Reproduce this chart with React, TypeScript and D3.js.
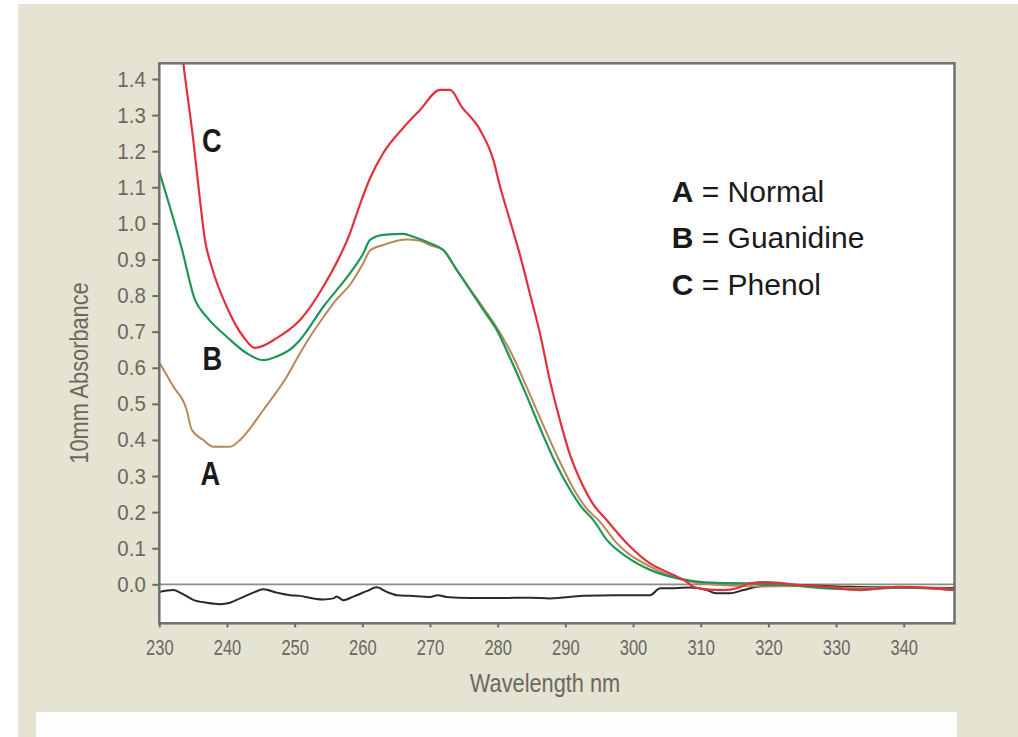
import React, { useEffect, useRef } from 'react';
import * as d3 from 'd3';

// ---- data ----
const wavelengthTicks = [230, 240, 250, 260, 270, 280, 290, 300, 310, 320, 330, 340];
const absorbanceTicks = [0.0, 0.1, 0.2, 0.3, 0.4, 0.5, 0.6, 0.7, 0.8, 0.9, 1.0, 1.1, 1.2, 1.3, 1.4];

// A = Normal (brown)
const normalA: [number, number][] = [
  [230.1, 0.612], [232.07, 0.548], [234.05, 0.483], [234.79, 0.428], [236.5, 0.4], [237.98, 0.381],
  [240.45, 0.381], [241.93, 0.4], [245.37, 0.483], [248.83, 0.575], [250.79, 0.64], [252.27, 0.686],
  [254.24, 0.74], [256.22, 0.79], [258.18, 0.83], [260.15, 0.89], [261.14, 0.925], [263.1, 0.94],
  [266.56, 0.955], [268.5, 0.952], [270.0, 0.94],
  [271.97, 0.926], [273.95, 0.871], [277.88, 0.766], [279.91, 0.71], [282.13, 0.636], [284.34, 0.544],
  [286.71, 0.442], [288.92, 0.35], [291.14, 0.267], [293.06, 0.212], [295.13, 0.173], [297.59, 0.114],
  [302.52, 0.049], [307.44, 0.012], [312.86, -0.002], [318.77, -0.006], [324.68, -0.005], [332.07, -0.01],
  [339.46, -0.009], [347.5, -0.013],
];

// B = Guanidine (green)
const guanidineB: [number, number][] = [
  [230.0, 1.143], [233.31, 0.931], [235.28, 0.788], [237.0, 0.741], [239.96, 0.686], [242.92, 0.64],
  [245.37, 0.621], [247.35, 0.631], [249.8, 0.658], [250.79, 0.677], [254.24, 0.769], [258.18, 0.862],
  [260.15, 0.917], [261.14, 0.954], [263.1, 0.968], [266.06, 0.971], [267.54, 0.963], [270.0, 0.945],
  [271.97, 0.926], [273.95, 0.871], [277.88, 0.76], [279.86, 0.705], [281.83, 0.627], [284.04, 0.533],
  [286.26, 0.433], [288.48, 0.339], [290.7, 0.262], [292.47, 0.212], [294.14, 0.178], [296.12, 0.123],
  [299.07, 0.076], [302.52, 0.04], [306.46, 0.017], [308.91, 0.009], [312.37, 0.004], [316.3, 0.003],
  [321.72, 0.0], [328.63, -0.011], [333.55, -0.014], [339.46, -0.009], [347.5, -0.014],
];

// C = Phenol (red)
const phenolC: [number, number][] = [
  [233.2, 1.5], [233.55, 1.444], [235.02, 1.231], [236.01, 1.065], [236.75, 0.954], [237.74, 0.88],
  [239.96, 0.769], [242.41, 0.686], [244.14, 0.655], [247.35, 0.682], [250.79, 0.732], [254.24, 0.825],
  [258.18, 0.973], [259.7, 1.055], [261.14, 1.125], [263.1, 1.195], [266.06, 1.265], [268.53, 1.314], [271.48, 1.37],
  [272.96, 1.37], [274.69, 1.323], [277.39, 1.259], [279.36, 1.176], [280.35, 1.102], [281.8, 1.009],
  [283.3, 0.912], [284.8, 0.802], [286.3, 0.691], [287.7, 0.566], [289.2, 0.455], [290.7, 0.358],
  [292.2, 0.289], [294.0, 0.225], [296.1, 0.178], [299.07, 0.114], [302.5, 0.058], [305.96, 0.026],
  [307.94, 0.007], [308.91, -0.007], [310.89, -0.014], [313.35, -0.016], [315.33, -0.011], [317.29, 0.003],
  [319.76, 0.006], [324.68, -0.002], [329.6, -0.009], [333.55, -0.016], [338.97, -0.007], [344.38, -0.011],
  [347.33, -0.016],
];

// blank / baseline (black)
const blankTrace: [number, number][] = [
  [230.0, -0.021], [232.07, -0.016], [233.31, -0.025], [235.02, -0.043], [237.0, -0.051], [238.97, -0.055],
  [240.45, -0.051], [241.93, -0.039], [243.89, -0.023], [245.37, -0.014], [247.35, -0.023], [249.31, -0.03],
  [250.79, -0.032], [252.76, -0.039], [254.24, -0.042], [255.71, -0.039], [256.22, -0.034], [257.19, -0.044],
  [258.67, -0.034], [260.65, -0.019], [262.13, -0.008], [263.6, -0.021], [265.08, -0.03], [267.05, -0.032],
  [270.0, -0.035], [271.19, -0.03], [272.37, -0.035], [275.92, -0.038], [280.35, -0.038], [284.78, -0.037],
  [287.74, -0.039], [292.66, -0.032], [297.59, -0.03], [302.52, -0.03], [304.0, -0.011], [304.98, -0.011],
  [308.42, -0.009], [310.89, -0.016], [312.37, -0.025], [314.34, -0.025], [316.3, -0.016], [318.28, -0.007],
  [321.24, -0.002], [326.16, -0.003], [332.07, -0.007], [339.46, -0.009], [347.5, -0.01],
];

const legendLetters = ['A', 'B', 'C'];
const legendNames = ['Normal', 'Guanidine', 'Phenol'];

// ---- layout ----
const W = 1018;
const H = 737;
const PL = 159.3, PR = 954.5, PT = 63.3, PB = 623.3;
const SANS = '"Liberation Sans", Arial, sans-serif';
const AXIS_GREY = '#6b6b62';
const LABEL_GREY = '#6a695f';
const X_SX = 0.75;
const Y_SX = 0.93;
const TITLE_SX = 0.87;
const MARK_SX = 0.8;

const x = d3.scaleLinear().domain([230, 347.5]).range([PL, PR]);
const y = d3.scaleLinear().domain([-0.108, 1.4435]).range([PB, PT]);

const line = d3
  .line<[number, number]>()
  .x((d) => x(d[0]))
  .y((d) => y(d[1]))
  .curve(d3.curveMonotoneX);

export default function App() {
  const xAxisRef = useRef<SVGGElement>(null);
  const yAxisRef = useRef<SVGGElement>(null);

  useEffect(() => {
    if (xAxisRef.current) {
      const g = d3.select(xAxisRef.current);
      g.call(
        d3.axisBottom(x).tickValues(wavelengthTicks).tickFormat(d3.format('d')).tickSize(4).tickPadding(12)
      );
      g.select('.domain').remove();
      g.selectAll('line').attr('stroke', AXIS_GREY).attr('stroke-width', 2);
      g.selectAll('text')
        .attr('fill', LABEL_GREY)
        .attr('font-family', SANS)
        .attr('font-size', 22)
        .attr('transform', `scale(${X_SX},1)`);
    }
    if (yAxisRef.current) {
      const g = d3.select(yAxisRef.current);
      g.call(
        d3.axisLeft(y).tickValues(absorbanceTicks).tickFormat(d3.format('.1f')).tickSize(7).tickPadding(6)
      );
      g.select('.domain').remove();
      g.selectAll('line').attr('stroke', AXIS_GREY).attr('stroke-width', 2);
      g.selectAll('text')
        .attr('fill', LABEL_GREY)
        .attr('font-family', SANS)
        .attr('font-size', 22)
        .attr('x', -13.5 / Y_SX)
        .attr('transform', `scale(${Y_SX},1)`);
    }
  }, []);

  return (
    <svg
      width={W}
      height={H}
      viewBox={`0 0 ${W} ${H}`}
      style={{ position: 'absolute', left: 0, top: 0, display: 'block' }}
    >
      <rect x={0} y={0} width={W} height={H} fill="#ffffff" />
      <rect x={18} y={4} width={W - 18} height={H - 4} fill="#e5e3d1" />
      <rect x={36} y={712} width={921} height={H - 712} fill="#fdfdfb" />

      <defs>
        <clipPath id="plotClip">
          <rect x={PL} y={PT} width={PR - PL} height={PB - PT} />
        </clipPath>
      </defs>

      <rect x={PL} y={PT} width={PR - PL} height={PB - PT} fill="#ffffff" />

      <g clipPath="url(#plotClip)">
        <line x1={PL} x2={PR} y1={y(0)} y2={y(0)} stroke="#8c8c88" strokeWidth={1.8} />
        <path d={line(blankTrace) || ''} fill="none" stroke="#2a2a2a" strokeWidth={2} />
        <path d={line(normalA) || ''} fill="none" stroke="#b8875a" strokeWidth={2} />
        <path d={line(guanidineB) || ''} fill="none" stroke="#1e9658" strokeWidth={2.2} />
        <path d={line(phenolC) || ''} fill="none" stroke="#e2313c" strokeWidth={2.2} />
      </g>

      <rect
        x={PL}
        y={PT}
        width={PR - PL}
        height={PB - PT}
        fill="none"
        stroke="#707070"
        strokeWidth={2.5}
      />

      <g ref={xAxisRef} transform={`translate(0,${PB})`} />
      <g ref={yAxisRef} transform={`translate(${PL},0)`} />

      <text
        transform={`translate(545,692) scale(${TITLE_SX},1)`}
        textAnchor="middle"
        fontFamily={SANS}
        fontSize={25}
        fill={LABEL_GREY}
      >
        Wavelength nm
      </text>
      <text
        transform={`translate(88,373) rotate(-90) scale(${TITLE_SX},1)`}
        textAnchor="middle"
        fontFamily={SANS}
        fontSize={25}
        fill={LABEL_GREY}
      >
        10mm Absorbance
      </text>

      {/* curve labels */}
      <text
        transform={`translate(${x(236.3)},${y(1.198)}) scale(${MARK_SX},1)`}
        fontFamily={SANS}
        fontWeight="bold"
        fontSize={34}
        fill="#1a1a1a"
      >
        C
      </text>
      <text
        transform={`translate(${x(236.4)},${y(0.594)}) scale(${MARK_SX},1)`}
        fontFamily={SANS}
        fontWeight="bold"
        fontSize={34}
        fill="#1a1a1a"
      >
        B
      </text>
      <text
        transform={`translate(${x(236.1)},${y(0.275)}) scale(${MARK_SX},1)`}
        fontFamily={SANS}
        fontWeight="bold"
        fontSize={34}
        fill="#1a1a1a"
      >
        A
      </text>

      {/* legend */}
      {legendLetters.map((l, i) => (
        <text key={l} x={671.7} y={201.7 + i * 46.7} fontFamily={SANS} fontSize={30} fill="#1a1a1a">
          <tspan fontWeight="bold">{l}</tspan>
          <tspan> = {legendNames[i]}</tspan>
        </text>
      ))}
    </svg>
  );
}
